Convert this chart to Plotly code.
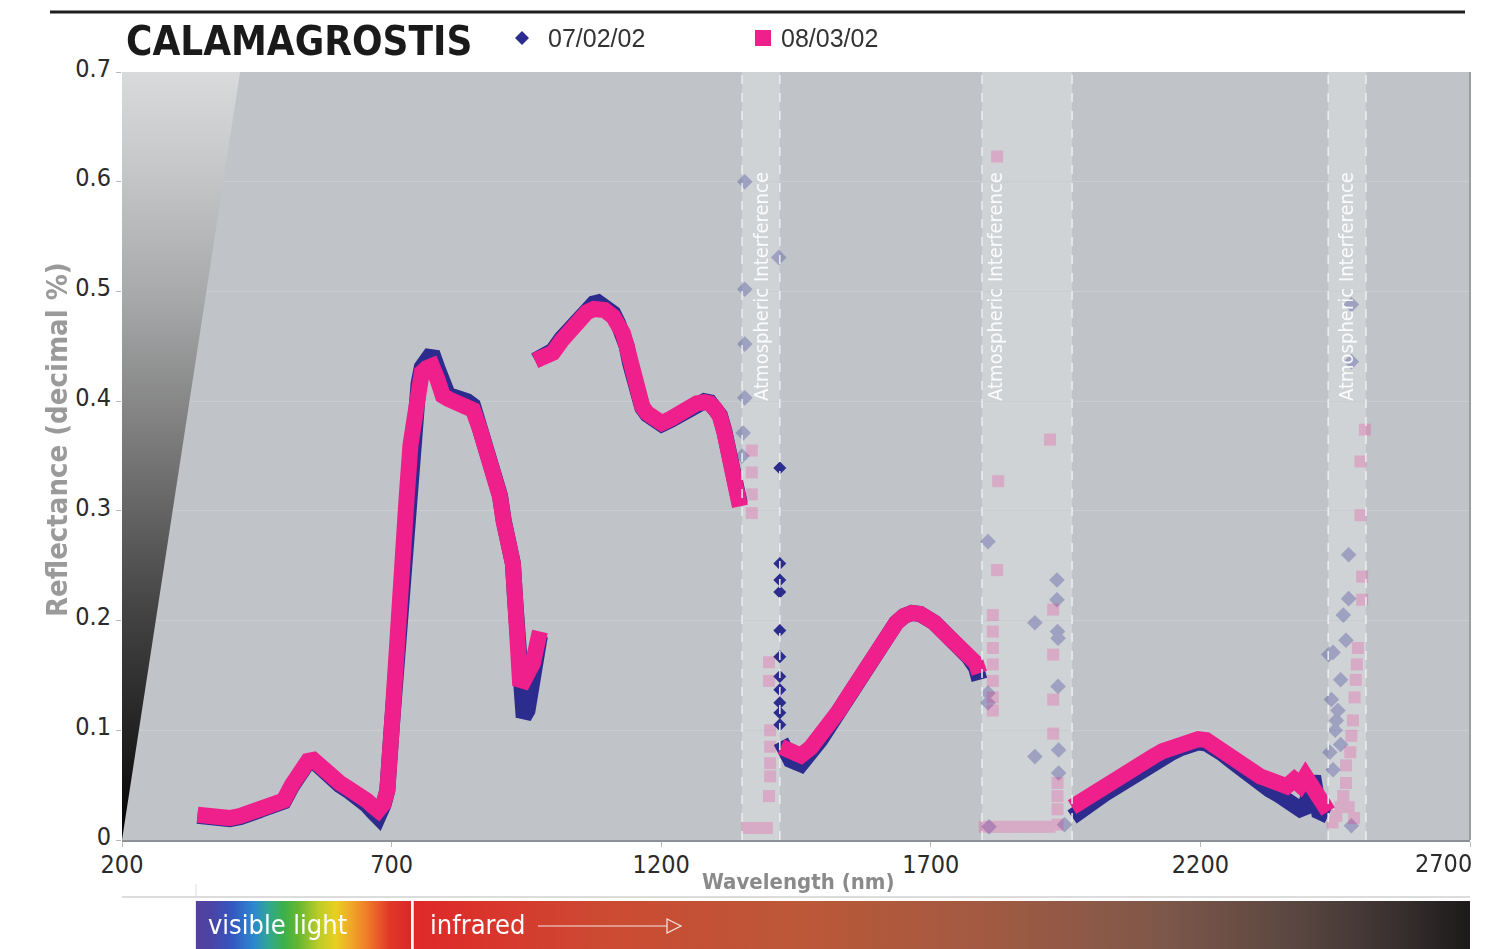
import plotly.graph_objects as go

# ---------------- data ----------------
# Segment 1: VNIR detector
SEG1_WL = [340, 360, 380, 400, 420, 440, 460, 480, 500, 515, 530, 545, 555, 567, 586, 604, 620, 636, 654,
           665, 675, 685, 692, 700, 710, 720, 728, 735, 743, 750, 756, 765, 775, 785, 795, 805, 815, 827, 840,
           851, 864, 873, 883, 892, 901, 908, 914, 920, 925, 929, 932, 935, 938, 945, 952, 962, 975]
SEG1_A = [0.022, 0.020, 0.018, 0.019, 0.021, 0.024, 0.027, 0.030, 0.035, 0.049, 0.063, 0.071, 0.072, 0.066, 0.055,
          0.050, 0.045, 0.040, 0.032, 0.026, 0.021, 0.032, 0.045, 0.101, 0.163, 0.243, 0.316, 0.364, 0.394, 0.416,
          0.431, 0.440, 0.444, 0.430, 0.410, 0.405, 0.404, 0.403, 0.400, 0.396, 0.377, 0.362, 0.344, 0.326, 0.314,
          0.291, 0.276, 0.262, 0.252, 0.220, 0.185, 0.145, 0.118, 0.112, 0.118, 0.148, 0.186]
SEG1_B = [0.023, 0.021, 0.019, 0.020, 0.022, 0.025, 0.028, 0.031, 0.036, 0.050, 0.064, 0.072, 0.073, 0.067, 0.057,
          0.052, 0.047, 0.043, 0.036, 0.031, 0.027, 0.033, 0.045, 0.100, 0.161, 0.240, 0.313, 0.360, 0.389, 0.410,
          0.426, 0.430, 0.432, 0.420, 0.405, 0.402, 0.400, 0.398, 0.395, 0.392, 0.374, 0.360, 0.343, 0.325, 0.313,
          0.290, 0.276, 0.262, 0.252, 0.220, 0.190, 0.160, 0.146, 0.145, 0.150, 0.161, 0.190]

# Segment 2: SWIR-1 up to the first absorption band
SEG2_WL = [966, 985, 999, 1015, 1031, 1047, 1062, 1075, 1083, 1095, 1111, 1120, 1129, 1136, 1142, 1150, 1155,
           1165, 1174, 1188, 1201, 1218, 1235, 1250, 1266, 1280, 1290, 1300, 1309, 1317, 1324, 1331, 1337, 1342, 1346]
SEG2_A = [0.437, 0.441, 0.446, 0.457, 0.467, 0.477, 0.485, 0.489, 0.490, 0.487, 0.480, 0.471, 0.462, 0.450, 0.435,
          0.418, 0.406, 0.394, 0.388, 0.381, 0.379, 0.383, 0.388, 0.394, 0.398, 0.400, 0.399, 0.394, 0.387, 0.373,
          0.359, 0.346, 0.335, 0.320, 0.306]
SEG2_B = [0.437, 0.440, 0.444, 0.455, 0.465, 0.474, 0.481, 0.484, 0.485, 0.483, 0.477, 0.470, 0.462, 0.450, 0.435,
          0.418, 0.407, 0.395, 0.389, 0.382, 0.380, 0.384, 0.389, 0.395, 0.398, 0.399, 0.398, 0.393, 0.386, 0.372,
          0.358, 0.345, 0.334, 0.318, 0.304]

# Segment 3: between the first and second absorption bands
SEG3_WL = [1422, 1440, 1459, 1477, 1495, 1512, 1530, 1548, 1565, 1582, 1600, 1618, 1636, 1650, 1665, 1680,
           1693, 1707, 1721, 1738, 1756, 1770, 1784, 1790]
SEG3_A = [0.090, 0.073, 0.069, 0.078, 0.091, 0.104, 0.118, 0.132, 0.146, 0.160, 0.173, 0.186, 0.198, 0.204,
          0.207, 0.206, 0.203, 0.198, 0.191, 0.184, 0.175, 0.167, 0.157, 0.146]
SEG3_B = [0.085, 0.079, 0.077, 0.084, 0.094, 0.105, 0.118, 0.132, 0.146, 0.160, 0.173, 0.186, 0.198, 0.204,
          0.207, 0.206, 0.203, 0.198, 0.191, 0.184, 0.176, 0.169, 0.161, 0.152]

# Segment 4: between the second and third absorption bands
SEG4_WL = [1962, 1980, 2005, 2022, 2040, 2058, 2077, 2095, 2112, 2130, 2148, 2165, 2182, 2196, 2211, 2225,
           2240, 2258, 2275, 2293, 2311, 2328, 2346, 2360, 2374, 2385, 2395, 2409, 2420, 2430, 2437]
SEG4_A = [0.021, 0.029, 0.036, 0.042, 0.048, 0.054, 0.059, 0.065, 0.070, 0.076, 0.080, 0.084, 0.087, 0.089,
          0.088, 0.085, 0.079, 0.072, 0.065, 0.058, 0.051, 0.046, 0.041, 0.037, 0.033, 0.028, 0.030, 0.058,
          0.026, 0.021, 0.022]
SEG4_B = [0.030, 0.036, 0.043, 0.049, 0.055, 0.060, 0.065, 0.071, 0.076, 0.081, 0.085, 0.088, 0.091, 0.092,
          0.091, 0.087, 0.082, 0.076, 0.070, 0.064, 0.058, 0.055, 0.052, 0.049, 0.055, 0.050, 0.058, 0.048,
          0.040, 0.032, 0.026]

# Steep edge of the 07/02/02 spectrum right after the first band
EDGE_A_WL = [1420] * 11
EDGE_A = [0.339, 0.252, 0.237, 0.226, 0.191, 0.167, 0.149, 0.137, 0.125, 0.116, 0.105]

# Noisy points inside the atmospheric interference bands
BAND_A_WL = [1355, 1355, 1355, 1355, 1352, 1350, 1418, 1806, 1806, 1806, 1893, 1893, 1934, 1934, 1935, 1936,
             1936, 1937, 1937, 1808, 1948, 2480, 2480, 2475, 2475, 2470, 2465, 2460, 2446, 2438, 2443, 2452,
             2460, 2446, 2455, 2450, 2440, 2480]
BAND_A = [0.600, 0.502, 0.452, 0.403, 0.371, 0.350, 0.531, 0.272, 0.134, 0.125, 0.198, 0.076, 0.237, 0.219,
          0.190, 0.184, 0.140, 0.082, 0.061, 0.012, 0.014, 0.488, 0.436, 0.260, 0.220, 0.182, 0.205, 0.146,
          0.171, 0.169, 0.128, 0.109, 0.087, 0.064, 0.118, 0.100, 0.080, 0.013]
BAND_B_WL = [1368, 1368, 1368, 1368, 1400, 1400, 1402, 1402, 1402, 1402, 1400, 1360, 1372, 1384, 1396,
             1823, 1921, 1825, 1823, 1815, 1815, 1815, 1815, 1815, 1815, 1815, 1927, 1927, 1927, 1927, 1935,
             1935, 1935, 1800, 1815, 1830, 1845, 1860, 1875, 1890, 1905, 1920, 1935,
             2505, 2497, 2497, 2500, 2500, 2492, 2490, 2488, 2486, 2483, 2480, 2478, 2470, 2470, 2465, 2460,
             2452, 2445, 2485, 2475]
BAND_B = [0.355, 0.335, 0.315, 0.298, 0.162, 0.145, 0.100, 0.085, 0.070, 0.058, 0.040, 0.011, 0.011, 0.011, 0.011,
          0.623, 0.365, 0.327, 0.246, 0.205, 0.190, 0.175, 0.160, 0.145, 0.130, 0.118, 0.210, 0.169, 0.128, 0.097,
          0.052, 0.040, 0.028, 0.012, 0.012, 0.012, 0.012, 0.012, 0.012, 0.012, 0.012, 0.012, 0.014,
          0.374, 0.345, 0.296, 0.240, 0.219, 0.175, 0.160, 0.146, 0.130, 0.109, 0.095, 0.080, 0.068, 0.052,
          0.040, 0.030, 0.022, 0.016, 0.020, 0.030]

SERIES_NAMES = ["07/02/02", "08/03/02"]
BANDS = [(1350, 1420), (1795, 1962), (2437, 2507)]
BAND_LABEL_X = [1385, 1819, 2470]
BAND_LABEL = "Atmospheric Interference"
X_TICKS = [200, 700, 1200, 1700, 2200, 2700]
VISIBLE_RANGE = (337, 736)
INFRARED_RANGE = (741, 2700)

# ---------------- geometry (page pixels; the page body adds an 8px offset) ----------------
OFF = 8
PAGE_W, PAGE_H = 1487, 949
FIG_W, FIG_H = PAGE_W - OFF, PAGE_H - OFF
PLOT_L, PLOT_R, PLOT_T, PLOT_B = 122, 1470, 72, 840   # page pixels
ML = PLOT_L - OFF
MR = FIG_W - (PLOT_R - OFF)
MT = PLOT_T - OFF
PW = PLOT_R - PLOT_L
PH = FIG_H - MT


def pxx(x):
    return (x - PLOT_L) / PW


def pxy(y):
    return (FIG_H - (y - OFF)) / PH


BLUE = "#2c2c8e"
PINK = "#ef1f8b"
COND = "'Liberation Sans Narrow', 'DejaVu Sans Condensed', 'Roboto Condensed', 'Arial Narrow', Roboto, sans-serif"
PLAIN = "'Liberation Sans', Arial, sans-serif"


def joined(segs):
    xs, ys = [], []
    for wl, v in segs:
        xs += wl + [None]
        ys += v + [None]
    return xs, ys


fig = go.Figure()

# left grey wedge
fig.add_trace(go.Scatter(
    x=[200, 419, 200], y=[0.7, 0.7, 0.0], mode="none", fill="toself",
    fillgradient=dict(type="vertical", colorscale=[[0, "#000000"], [0.12, "#1e1e1e"], [0.3, "#444444"],
                                                   [0.5, "#767676"], [0.7, "#a6a7a8"], [0.88, "#c6c8ca"],
                                                   [1, "#d8dadc"]]),
    hoverinfo="skip", showlegend=False))

ax, ay = joined([(SEG1_WL, SEG1_A), (SEG2_WL, SEG2_A), (SEG3_WL, SEG3_A), (SEG4_WL, SEG4_A)])
bx, by = joined([(SEG1_WL, SEG1_B), (SEG2_WL, SEG2_B), (SEG3_WL, SEG3_B), (SEG4_WL, SEG4_B)])

fig.add_trace(go.Scatter(x=BAND_A_WL, y=BAND_A, mode="markers", opacity=0.3,
                         marker=dict(symbol="diamond", size=12, color=BLUE), showlegend=False, hoverinfo="skip"))
fig.add_trace(go.Scatter(x=BAND_B_WL, y=BAND_B, mode="markers", opacity=0.22,
                         marker=dict(symbol="square", size=12, color=PINK), showlegend=False, hoverinfo="skip"))
fig.add_trace(go.Scatter(x=ax, y=ay, mode="lines", line=dict(color=BLUE, width=16),
                         showlegend=False, connectgaps=False, name=SERIES_NAMES[0]))
fig.add_trace(go.Scatter(x=EDGE_A_WL, y=EDGE_A, mode="markers",
                         marker=dict(symbol="diamond", size=10, color=BLUE), showlegend=False, name=SERIES_NAMES[0]))
fig.add_trace(go.Scatter(x=bx, y=by, mode="lines", line=dict(color=PINK, width=16),
                         showlegend=False, connectgaps=False, name=SERIES_NAMES[1]))

# spectrum bar
fig.add_trace(go.Scatter(
    x=[VISIBLE_RANGE[0], VISIBLE_RANGE[1], VISIBLE_RANGE[1], VISIBLE_RANGE[0]], y=[0, 0, 1, 1],
    mode="none", fill="toself", xaxis="x2", yaxis="y2", hoverinfo="skip", showlegend=False,
    fillgradient=dict(type="horizontal", colorscale=[
        [0, "#56409c"], [0.08, "#4a44a8"], [0.17, "#3458c0"], [0.27, "#2c88d0"], [0.34, "#30a890"],
        [0.41, "#3cb048"], [0.48, "#68b830"], [0.57, "#bccc28"], [0.65, "#e8d020"], [0.72, "#f0a828"],
        [0.79, "#f08028"], [0.9, "#e03828"], [1, "#d82828"]])))
fig.add_trace(go.Scatter(
    x=[INFRARED_RANGE[0], INFRARED_RANGE[1], INFRARED_RANGE[1], INFRARED_RANGE[0]], y=[0, 0, 1, 1],
    mode="none", fill="toself", xaxis="x2", yaxis="y2", hoverinfo="skip", showlegend=False,
    fillgradient=dict(type="horizontal", colorscale=[
        [0, "#e02828"], [0.18, "#cc4a32"], [0.37, "#bc5838"], [0.55, "#a05a42"], [0.7, "#80584a"],
        [0.84, "#584640"], [0.93, "#3a3030"], [1, "#1c1a1a"]])))

shapes = [dict(type="rect", xref="x domain", yref="y domain", x0=0, x1=1, y0=0, y1=1,
               fillcolor="#c0c4c8", line=dict(width=0), layer="below")]
for (a, b) in BANDS:
    shapes.append(dict(type="rect", xref="x", yref="y", x0=a, x1=b, y0=0, y1=0.7,
                       fillcolor="#d0d3d6", line=dict(width=0), layer="below"))
    for xv in (a, b):
        shapes.append(dict(type="line", xref="x", yref="y", x0=xv, x1=xv, y0=0, y1=0.7,
                           line=dict(color="#eceef0", width=1.5, dash="dash"), layer="above"))
# right frame line
shapes.append(dict(type="line", xref="paper", yref="y", x0=1, x1=1, y0=0, y1=0.7,
                   line=dict(color="#9a9ea2", width=2)))
# top rule
shapes.append(dict(type="line", xref="paper", yref="paper", x0=pxx(50), x1=pxx(1465), y0=pxy(12), y1=pxy(12),
                   line=dict(color="#1e1e1e", width=3)))
# thin line above spectrum bar
shapes.append(dict(type="line", xref="paper", yref="paper", x0=0, x1=1, y0=pxy(897), y1=pxy(897),
                   line=dict(color="#dcdcdc", width=2)))
shapes.append(dict(type="line", xref="paper", yref="paper", x0=pxx(196), x1=pxx(196), y0=pxy(884), y1=pxy(897),
                   line=dict(color="#dcdcdc", width=1)))
# arrow in the infrared part
shapes.append(dict(type="line", xref="paper", yref="paper", x0=pxx(538), x1=pxx(667), y0=pxy(926), y1=pxy(926),
                   line=dict(color="#f4e8e4", width=1.2)))
shapes.append(dict(type="path", xref="paper", yref="paper",
                   path=f"M {pxx(667)},{pxy(919)} L {pxx(681)},{pxy(926)} L {pxx(667)},{pxy(933)} Z",
                   line=dict(color="#f4e8e4", width=1.2)))


# legend (drawn by hand so that it does not push the margins)
def diamond(cx, cy, r):
    return (f"M {pxx(cx - r)},{pxy(cy)} L {pxx(cx)},{pxy(cy - r)} L {pxx(cx + r)},{pxy(cy)} "
            f"L {pxx(cx)},{pxy(cy + r)} Z")


def square(cx, cy, r):
    return (f"M {pxx(cx - r)},{pxy(cy - r)} L {pxx(cx + r)},{pxy(cy - r)} L {pxx(cx + r)},{pxy(cy + r)} "
            f"L {pxx(cx - r)},{pxy(cy + r)} Z")


LEG_Y = 38
shapes.append(dict(type="path", xref="paper", yref="paper", path=diamond(522, LEG_Y, 7),
                   fillcolor=BLUE, line=dict(width=0)))
shapes.append(dict(type="path", xref="paper", yref="paper", path=square(763, LEG_Y, 8),
                   fillcolor=PINK, line=dict(width=0)))

tickfont = dict(family=COND, size=25, color="#2b2b2b")

annotations = [
    dict(text=SERIES_NAMES[0], xref="paper", yref="paper", x=pxx(546), y=pxy(LEG_Y), xanchor="left",
         yanchor="middle", showarrow=False, font=dict(family=PLAIN, size=25, color="#333333")),
    dict(text=SERIES_NAMES[1], xref="paper", yref="paper", x=pxx(779), y=pxy(LEG_Y), xanchor="left",
         yanchor="middle", showarrow=False, font=dict(family=PLAIN, size=25, color="#333333")),
    dict(text="<b>CALAMAGROSTIS</b>", xref="paper", yref="paper", x=pxx(124), y=pxy(41), xanchor="left",
         yanchor="middle", showarrow=False, font=dict(family=COND, size=40, color="#1a1a1a")),
    dict(text="<b>Reflectance (decimal %)</b>", xref="paper", yref="paper", x=pxx(38), y=pxy(440),
         textangle=-90, showarrow=False, font=dict(family=COND, size=29, color="#9a9a9a")),
    dict(text="<b>Wavelength (nm)</b>", xref="paper", yref="paper", x=pxx(798), y=pxy(881),
         xanchor="center", yanchor="middle",
         showarrow=False, font=dict(family=COND, size=22, color="#8a8a8a")),
    dict(text="visible light", xref="paper", yref="paper", x=pxx(206), y=pxy(924), xanchor="left",
         yanchor="middle", showarrow=False, font=dict(family=COND, size=27, color="#ffffff")),
    dict(text="infrared", xref="paper", yref="paper", x=pxx(428), y=pxy(924), xanchor="left",
         yanchor="middle", showarrow=False, font=dict(family=COND, size=27, color="#ffffff")),
    # last x tick label, kept inside the page like in the original
    dict(text=str(X_TICKS[-1]), xref="x", yref="paper", x=X_TICKS[-1], y=pxy(863), xanchor="right",
         yanchor="middle", xshift=4, showarrow=False, font=tickfont),
]
for xl in BAND_LABEL_X:
    annotations.append(dict(text=BAND_LABEL, x=xl, y=0.505, xref="x", yref="y", textangle=-90,
                            showarrow=False, font=dict(family=COND, size=20, color="rgba(255,255,255,0.9)")))

fig.update_layout(
    width=FIG_W, height=FIG_H,
    margin=dict(l=ML, r=MR, t=MT, b=0, autoexpand=False),
    paper_bgcolor="#ffffff", plot_bgcolor="#ffffff",
    showlegend=False,
    xaxis=dict(domain=[0, 1], range=[200, 2700], tickvals=X_TICKS,
               ticktext=[str(t) for t in X_TICKS[:-1]] + [""],
               ticks="outside", ticklen=5, ticklabelstandoff=-4,
               tickcolor="#b8b8b8", showline=True, linecolor="#8c9094", linewidth=2, showgrid=False,
               zeroline=False, tickfont=tickfont, anchor="y", automargin=False),
    yaxis=dict(domain=[pxy(PLOT_B), 1], range=[0, 0.7], tick0=0, dtick=0.1, ticks="outside", ticklen=5,
               ticklabelshift=-4,
               tickcolor="#b8b8b8", showgrid=True, gridcolor="#c9ccd0", gridwidth=1, zeroline=False,
               showline=False, tickfont=tickfont, anchor="x", automargin=False),
    xaxis2=dict(domain=[0, 1], range=[200, 2700], anchor="y2", visible=False),
    yaxis2=dict(domain=[0, pxy(901)], range=[0, 1], anchor="x2", visible=False),
    shapes=shapes, annotations=annotations,
)

fig.write_html("out.html")
